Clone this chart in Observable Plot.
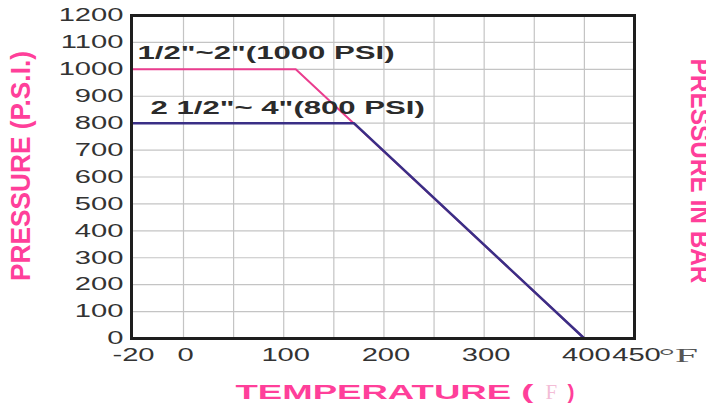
<!DOCTYPE html>
<html><head><meta charset="utf-8">
<script src="https://cdn.jsdelivr.net/npm/d3@7"></script>
<script src="https://cdn.jsdelivr.net/npm/@observablehq/plot@0.6"></script>
<style>body{margin:0;overflow:hidden;background:#fff}</style>
</head><body><div id="chart"></div>
<script>
// Data
const smallTemp = [-20, 112, 400];
const smallPsi = [1000, 1000, 0];
const largeTemp = [-20, 170, 400];
const largePsi = [800, 800, 0];
const smallLabel = '1/2"~2"(1000 PSI)';
const largeLabel = '2 1/2"~ 4"(800 PSI)';
const xTicks = [-20, 0, 100, 200, 300, 400, 450];
const xGrid = [0, 50, 100, 150, 200, 250, 300, 350, 400];
const yTicks = [0, 100, 200, 300, 400, 500, 600, 700, 800, 900, 1000, 1100, 1200];
const xUnit = "°F";
const xTitle = "TEMPERATURE (";
const yTitle = "PRESSURE (P.S.I.)";
const y2Title = "PRESSURE IN BAR";

const small = smallTemp.map((t, i) => ({t, p: smallPsi[i]}));
const large = largeTemp.map((t, i) => ({t, p: largePsi[i]}));

const pink = "#ff3f9a";
const svg = Plot.plot({
  width: 706, height: 406,
  marginLeft: 131, marginRight: 72, marginTop: 15, marginBottom: 68,
  style: {fontFamily: "Liberation Sans, Arial, sans-serif", background: "#fff", overflow: "hidden"},
  x: {type: "linear", domain: [-20, 0, 450], range: [131, 183, 634]},
  y: {domain: [0, 1200], range: [338, 15]},
  marks: [
    Plot.gridX(xGrid, {stroke: "#c4c4c4", strokeOpacity: 1, strokeWidth: 1.2}),
    Plot.gridY(yTicks, {stroke: "#c4c4c4", strokeOpacity: 1, strokeWidth: 1.2}),
    Plot.axisY(yTicks, {tickSize: 0, tickPadding: 8, fontSize: 18, fill: "#333", label: null, tickFormat: d => String(d)}),
    Plot.axisX(xTicks, {tickSize: 0, tickPadding: 10, fontSize: 18, fill: "#333", label: null, dx: 2, tickFormat: d => String(d)}),
    Plot.text([450], {x: d => d, frameAnchor: "bottom", text: () => xUnit, dx: 24, dy: 11, textAnchor: "start", lineAnchor: "top", fontFamily: "Liberation Serif, serif", fontSize: 18, fill: "#555"}),
    Plot.line(small, {x: "t", y: "p", stroke: "#ea3d8e", strokeWidth: 2}),
    Plot.line(large, {x: "t", y: "p", stroke: "#3a2f86", strokeWidth: 2.5}),
    Plot.text([small[0]], {x: "t", y: "p", text: () => smallLabel, dx: 6, dy: -16, textAnchor: "start", fontWeight: "bold", fontSize: 18, fill: "#2b2b2b"}),
    Plot.text([large[0]], {x: "t", y: "p", text: () => largeLabel, dx: 19, dy: -15, textAnchor: "start", fontWeight: "bold", fontSize: 18, fill: "#2b2b2b"}),
    Plot.frame({stroke: "#1e1e1e", strokeWidth: 3}),
    Plot.text([xTitle], {frameAnchor: "bottom-left", dx: 104, dy: 60, textAnchor: "start", lineAnchor: "bottom", fontWeight: "bold", fontSize: 21, fill: pink}),
    Plot.text(["F"], {frameAnchor: "bottom-left", dx: 414, dy: 60, textAnchor: "start", lineAnchor: "bottom", fontFamily: "Liberation Serif, serif", fontSize: 21, fill: "#f3bdd6"}),
    Plot.text([")"], {frameAnchor: "bottom-left", dx: 436, dy: 60, textAnchor: "start", lineAnchor: "bottom", fontWeight: "bold", fontSize: 21, fill: pink}),
    Plot.text([yTitle], {frameAnchor: "left", rotate: -90, dx: -102, dy: -11, textAnchor: "middle", lineAnchor: "bottom", fontWeight: "bold", fontSize: 28, fill: pink}),
    Plot.text([y2Title], {frameAnchor: "right", rotate: 90, dx: 56, dy: -6, textAnchor: "middle", lineAnchor: "bottom", fontWeight: "bold", fontSize: 28, fill: pink})
  ]
});
document.getElementById("chart").append(svg);

// Horizontal stretch of the lettering (the reference is stretched sideways)
const factorFor = (s, L) => {
  if (/^-?\d+$/.test(s)) return 1.62;
  if (s === smallLabel || s === largeLabel) return 1.73;
  if (s === xUnit) return 2.3;
  if (s === xTitle) return 298 / L;
  if (s === yTitle) return 230 / L;
  if (s === y2Title) return 225 / L;
  return 1;
};
svg.querySelectorAll("text").forEach(t => {
  const s = t.textContent;
  const L = t.getComputedTextLength();
  const k = factorFor(s, L);
  if (k === 1 || !L) return;
  let tr = t.getAttribute("transform");
  if (!tr) {
    const x = +t.getAttribute("x") || 0, y = +t.getAttribute("y") || 0;
    t.removeAttribute("x"); t.removeAttribute("y");
    tr = `translate(${x},${y})`;
  }
  t.setAttribute("transform", `${tr} scale(${k},1)`);
});
</script></body></html>
